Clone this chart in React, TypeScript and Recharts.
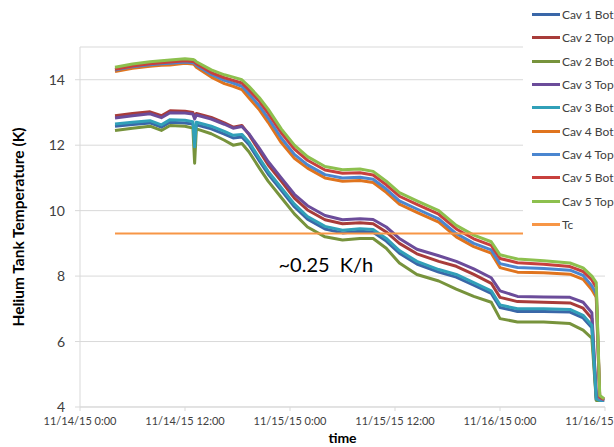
import React from 'react';
import { LineChart, Line, XAxis, YAxis, CartesianGrid, Legend, ReferenceDot } from 'recharts';

// hours since 11/14/15 0:00
const hours = [4, 6, 8, 9.3, 10.3, 12, 12.9, 13.1, 13.3, 15, 16.5, 17.5, 18.5, 19.3, 20.5, 21.5, 23, 24.5, 26, 28, 30, 32, 33.5, 35, 36.5, 38.5, 41, 43, 45, 47, 48, 50, 53, 56, 57.5, 58.5, 59, 59.4, 59.9];

const cav1Bot = [12.58, 12.63, 12.68, 12.55, 12.7, 12.68, 12.65, 12.3, 12.62, 12.5, 12.34, 12.22, 12.25, 12.02, 11.52, 11.12, 10.62, 10.12, 9.74, 9.44, 9.32, 9.37, 9.34, 9.07, 8.7, 8.37, 8.12, 7.97, 7.72, 7.47, 7.04, 6.92, 6.92, 6.9, 6.72, 6.42, 4.22, 4.2, 4.2];
const cav2Top = [12.9, 12.97, 13.02, 12.9, 13.05, 13.04, 13.0, 12.85, 12.97, 12.85, 12.68, 12.55, 12.6, 12.33, 11.82, 11.4, 10.9, 10.38, 10.02, 9.72, 9.6, 9.63, 9.6, 9.35, 9.0, 8.68, 8.45, 8.3, 8.05, 7.78, 7.35, 7.22, 7.2, 7.18, 7.02, 6.7, 4.3, 4.22, 4.22];
const cav2Bot = [12.45, 12.52, 12.58, 12.45, 12.6, 12.58, 12.52, 11.45, 12.5, 12.35, 12.15, 12.0, 12.05, 11.8, 11.3, 10.9, 10.4, 9.9, 9.5, 9.2, 9.1, 9.15, 9.15, 8.85, 8.4, 8.05, 7.85, 7.6, 7.38, 7.2, 6.7, 6.6, 6.6, 6.55, 6.35, 6.1, 4.2, 4.2, 4.2];
const cav3Top = [12.83, 12.9, 12.96, 12.84, 12.99, 12.98, 12.95, 12.8, 12.92, 12.8, 12.64, 12.52, 12.57, 12.35, 11.9, 11.5, 11.0, 10.5, 10.15, 9.85, 9.72, 9.75, 9.73, 9.5, 9.15, 8.82, 8.62, 8.45, 8.22, 7.95, 7.55, 7.38, 7.36, 7.35, 7.2, 6.88, 4.35, 4.25, 4.25];
const cav3Bot = [12.65, 12.7, 12.75, 12.62, 12.78, 12.76, 12.72, 11.95, 12.7, 12.58, 12.42, 12.3, 12.33, 12.1, 11.6, 11.2, 10.7, 10.2, 9.82, 9.52, 9.4, 9.45, 9.42, 9.15, 8.78, 8.45, 8.2, 8.05, 7.8, 7.55, 7.12, 7.0, 7.0, 6.98, 6.8, 6.5, 4.25, 4.2, 4.2];
const cav4Bot = [14.25, 14.35, 14.41, 14.44, 14.45, 14.5, 14.48, 14.45, 14.38, 14.08, 13.88, 13.8, 13.7, 13.45, 13.08, 12.7, 12.08, 11.6, 11.3, 11.0, 10.9, 10.92, 10.86, 10.56, 10.2, 9.95, 9.65, 9.2, 8.9, 8.7, 8.26, 8.12, 8.1, 8.06, 7.9, 7.58, 7.35, 4.25, 4.25];
const cav4Top = [14.3, 14.4, 14.46, 14.49, 14.5, 14.54, 14.52, 14.5, 14.44, 14.16, 13.98, 13.9, 13.8, 13.57, 13.2, 12.83, 12.22, 11.72, 11.4, 11.1, 11.0, 11.02, 10.96, 10.66, 10.3, 10.05, 9.75, 9.3, 9.0, 8.8, 8.38, 8.26, 8.23, 8.18, 8.02, 7.7, 7.45, 4.25, 4.2];
const cav5Bot = [14.32, 14.42, 14.49, 14.52, 14.54, 14.58, 14.56, 14.54, 14.49, 14.22, 14.06, 13.98, 13.9, 13.69, 13.34, 12.98, 12.38, 11.88, 11.54, 11.24, 11.14, 11.16, 11.09, 10.79, 10.44, 10.19, 9.89, 9.44, 9.14, 8.94, 8.54, 8.41, 8.36, 8.29, 8.14, 7.88, 7.65, 4.3, 4.22];
const cav5Top = [14.38, 14.48, 14.55, 14.58, 14.6, 14.64, 14.62, 14.6, 14.55, 14.3, 14.15, 14.08, 14.0, 13.8, 13.45, 13.1, 12.5, 12.0, 11.65, 11.35, 11.25, 11.27, 11.2, 10.9, 10.55, 10.3, 10.0, 9.55, 9.25, 9.05, 8.65, 8.52, 8.47, 8.4, 8.25, 8.0, 7.8, 4.35, 4.25];

const tcHours = [4, 59.9];
const tcValue = 9.3;

const xTicks = [0, 12, 24, 36, 48, 60];
const xTickLabels = ['11/14/15 0:00', '11/14/15 12:00', '11/15/15 0:00', '11/15/15 12:00', '11/16/15 0:00', '11/16/15 12:00'];
const yTicks = [4, 6, 8, 10, 12, 14];

// annotation anchor (hours, K)
const noteAt = { t: 28.1, k: 8.34 };

const series = [
  { name: 'Cav 1 Bot', values: cav1Bot, color: '#3A67A8' },
  { name: 'Cav 2 Top', values: cav2Top, color: '#A83C3A' },
  { name: 'Cav 2 Bot', values: cav2Bot, color: '#77933C' },
  { name: 'Cav 3 Top', values: cav3Top, color: '#6B4C9A' },
  { name: 'Cav 3 Bot', values: cav3Bot, color: '#31A0B8' },
  { name: 'Cav 4 Bot', values: cav4Bot, color: '#E0741E' },
  { name: 'Cav 4 Top', values: cav4Top, color: '#4A86D0' },
  { name: 'Cav 5 Bot', values: cav5Bot, color: '#C8403D' },
  { name: 'Cav 5 Top', values: cav5Top, color: '#8DC04E' },
];
const tcColor = '#F79646';

const rows = hours.map((t, i) => {
  const row: Record<string, number> = { t };
  series.forEach((s) => {
    row[s.name] = s.values[i];
  });
  return row;
});
const tcRows = tcHours.map((t) => ({ t, Tc: tcValue }));

const FONT = 'Lato, "Open Sans", sans-serif';

const legendItems = [...series.map((s) => ({ name: s.name, color: s.color })), { name: 'Tc', color: tcColor }];

const renderLegend = () => (
  <div style={{ background: '#fff', width: 91, height: 238, paddingTop: 3, boxSizing: 'border-box', fontFamily: FONT }}>
    {legendItems.map((it) => (
      <div key={it.name} style={{ display: 'flex', alignItems: 'center', height: 23.3 }}>
        <span style={{ display: 'inline-block', width: 28, height: 3, background: it.color, marginLeft: 9 }} />
        <span style={{ marginLeft: 2, fontSize: 12, color: '#404040', whiteSpace: 'nowrap' }}>{it.name}</span>
      </div>
    ))}
  </div>
);

const renderYLabel = (props: any) => {
  const vb = props.viewBox;
  const cx = vb.x + 13;
  const cy = vb.y + vb.height / 2;
  return (
    <text
      x={cx}
      y={cy}
      transform={`rotate(-90 ${cx} ${cy})`}
      textAnchor="middle"
      dominantBaseline="central"
      fontSize={15.5}
      fontWeight="bold"
      fontFamily={FONT}
      fill="#000"
    >
      Helium Tank Temperature (K)
    </text>
  );
};

export default function App() {
  return (
    <div style={{ position: 'absolute', left: 0, top: 0, background: '#fff' }}>
      <LineChart width={614} height={447} data={rows} margin={{ top: 47, right: 9, bottom: 0, left: 5 }} style={{ fontFamily: FONT }}>
        <CartesianGrid vertical={false} stroke="#d9d9d9" />
        <XAxis
          type="number"
          dataKey="t"
          domain={[0, 60]}
          ticks={xTicks}
          interval={0}
          tickFormatter={(v) => xTickLabels[xTicks.indexOf(v)]}
          tick={{ fontSize: 11, fill: '#404040' }}
          tickSize={4}
          tickMargin={6}
          axisLine={{ stroke: '#d9d9d9' }}
          tickLine={{ stroke: '#d9d9d9' }}
          height={40}
          label={{ value: 'time', position: 'insideBottom', offset: 4, fontSize: 14, fontWeight: 'bold', fill: '#000' }}
        />
        <YAxis
          type="number"
          domain={[4, 15]}
          ticks={yTicks}
          interval={0}
          tick={{ fontSize: 14, fill: '#404040' }}
          tickSize={5}
          tickMargin={10}
          axisLine={{ stroke: '#d9d9d9' }}
          tickLine={{ stroke: '#d9d9d9' }}
          width={75}
          label={{ content: renderYLabel }}
        />
        {series.map((s) => (
          <Line
            key={s.name}
            type="linear"
            dataKey={s.name}
            stroke={s.color}
            strokeWidth={3}
            strokeLinejoin="round"
            dot={false}
            isAnimationActive={false}
          />
        ))}
        <Line data={tcRows} type="linear" dataKey="Tc" stroke={tcColor} strokeWidth={2} dot={false} isAnimationActive={false} />
        <ReferenceDot
          x={noteAt.t}
          y={noteAt.k}
          r={0}
          fill="none"
          stroke="none"
          label={{ value: '~0.25\u00a0 K/h', position: 'center', fontSize: 20, fill: '#000' }}
        />
        <Legend
          layout="vertical"
          align="center"
          verticalAlign="middle"
          content={renderLegend}
          wrapperStyle={{ left: 523, top: 0, width: 91 }}
        />
      </LineChart>
    </div>
  );
}
